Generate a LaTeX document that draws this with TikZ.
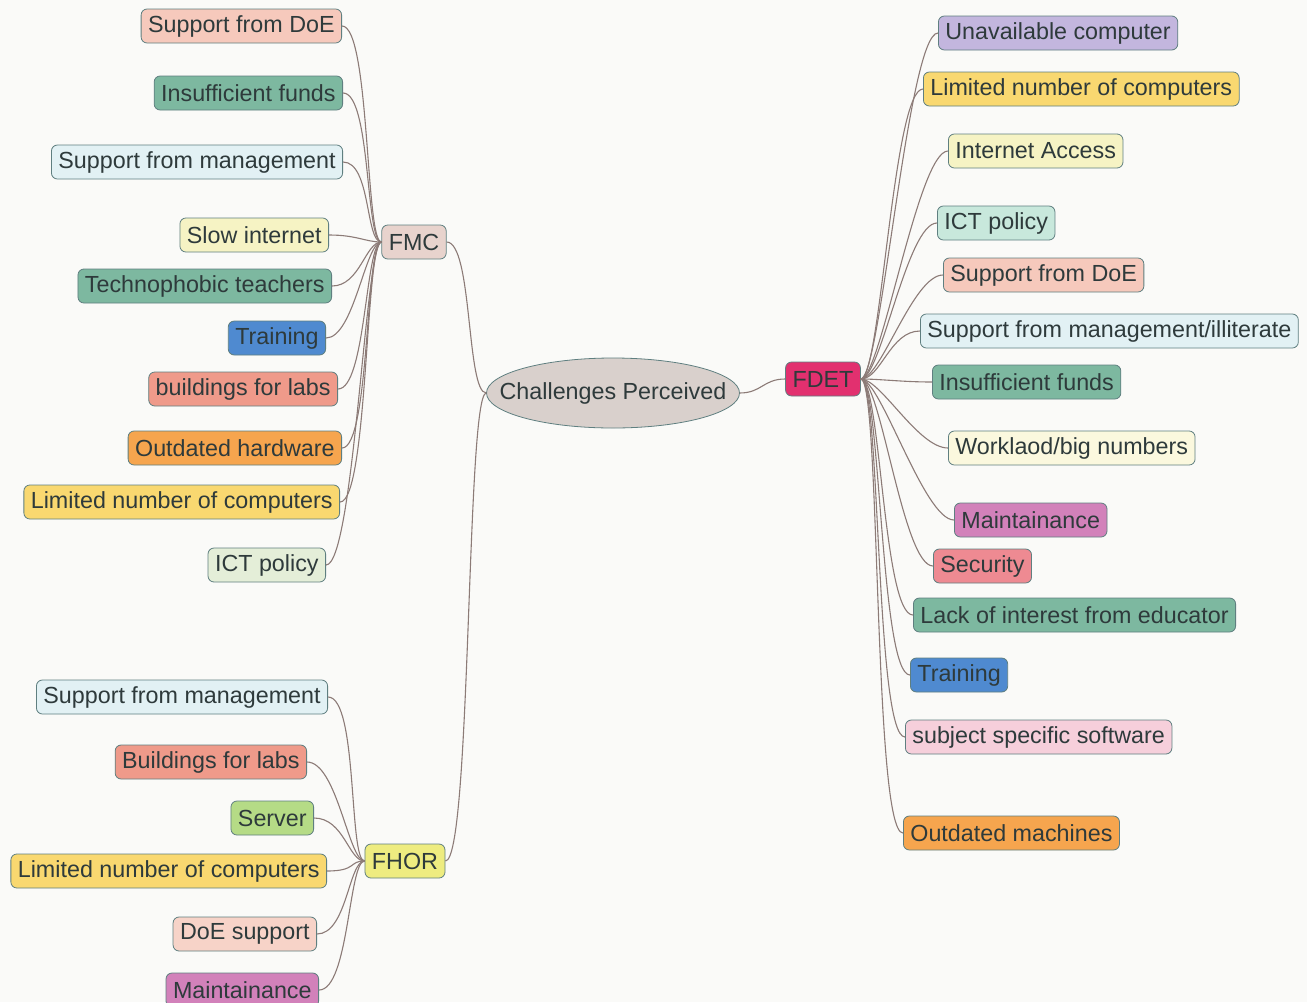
\documentclass[tikz,border=0pt]{standalone}
\usepackage{fontspec}
\setmainfont{Liberation Sans}
\definecolor{bgc}{HTML}{FAFAF8}
\definecolor{linkc}{HTML}{8C7B77}
\definecolor{edgec}{HTML}{5F7F80}
\definecolor{txtc}{HTML}{2E3A3B}
\definecolor{salmonlt}{HTML}{F6C9BC}
\definecolor{teal}{HTML}{7DB8A0}
\definecolor{bluelt}{HTML}{E2F1F4}
\definecolor{yellowlt}{HTML}{F6F3C4}
\definecolor{bluedk}{HTML}{4F8AD0}
\definecolor{salmon}{HTML}{EF9A8A}
\definecolor{orange}{HTML}{F6A54E}
\definecolor{yellow}{HTML}{F9D870}
\definecolor{greenlt}{HTML}{E4EED8}
\definecolor{tealt}{HTML}{C8E8DC}
\definecolor{fmcc}{HTML}{E8D3CD}
\definecolor{hubc}{HTML}{D9D0CC}
\definecolor{fdetc}{HTML}{E2306F}
\definecolor{fhorc}{HTML}{EEEC80}
\definecolor{serverc}{HTML}{B5DB86}
\definecolor{doelt}{HTML}{F7D3C8}
\definecolor{mauve}{HTML}{D281BA}
\definecolor{lavender}{HTML}{C3B6DE}
\definecolor{cream}{HTML}{FBF8DE}
\definecolor{rosec}{HTML}{EE8A92}
\definecolor{pinklt}{HTML}{F6CFDB}
\begin{document}
\begin{tikzpicture}[x=1pt,y=-1pt,
  every node/.style={font=\fontsize{23.3}{27}\selectfont, text=txtc},
  topic/.style={draw=edgec, line width=0.8pt, rounded corners=6pt, fill=#1,
    minimum height=34pt, inner xsep=7pt, inner ysep=3pt},
  hub/.style={minimum width=253pt, minimum height=70pt, inner sep=0pt},
  hubshape/.style={draw=edgec, line width=0.8pt, fill=hubc},
  link/.style={draw=linkc, line width=1.1pt}
]
\path[fill=bgc] (0,0) rectangle (1307,1002);
\useasboundingbox (0,0) rectangle (1307,1002);

% central topic (oval drawn first, text node on top) and main branches
\draw[hubshape] (613,393) ellipse (126.5 and 35);
\node[hub] (root) at (613,393) {Challenges Perceived};
\node[topic=fmcc] (fmc) at (414,242) {FMC};
\node[topic=fdetc] (fdet) at (823,379) {FDET};
\node[topic=fhorc] (fhor) at (405,861) {FHOR};

% FMC branch
\node[topic=salmonlt, anchor=east] (m1) at (342,26) {Support from DoE};
\node[topic=teal, anchor=east] (m2) at (343,93) {Insufficient funds};
\node[topic=bluelt, anchor=east] (m3) at (343,162) {Support from management};
\node[topic=yellowlt, anchor=east] (m4) at (329,235) {Slow internet};
\node[topic=teal, anchor=east] (m5) at (332,286) {Technophobic teachers};
\node[topic=bluedk, anchor=east] (m6) at (326,338) {Training};
\node[topic=salmon, anchor=east] (m7) at (338,389) {buildings for labs};
\node[topic=orange, anchor=east] (m8) at (342,448) {Outdated hardware};
\node[topic=yellow, anchor=east] (m9) at (340,502) {Limited number of computers};
\node[topic=greenlt, anchor=east] (m10) at (326,565) {ICT policy};

% FHOR branch
\node[topic=bluelt, anchor=east] (h1) at (328,697) {Support from management};
\node[topic=salmon, anchor=east] (h2) at (307,762) {Buildings for labs};
\node[topic=serverc, anchor=east] (h3) at (314,818) {Server};
\node[topic=yellow, anchor=east] (h4) at (327,871) {Limited number of computers};
\node[topic=doelt, anchor=east] (h5) at (317,934) {DoE support};
\node[topic=mauve, anchor=east] (h6) at (319,990) {Maintainance};

% FDET branch
\node[topic=lavender, anchor=west] (d1) at (938,33) {Unavailable computer};
\node[topic=yellow, anchor=west] (d2) at (923,89) {Limited number of computers};
\node[topic=yellowlt, anchor=west] (d3) at (948,151) {Internet Access};
\node[topic=tealt, anchor=west] (d4) at (937,223) {ICT policy};
\node[topic=salmonlt, anchor=west] (d5) at (943,275) {Support from DoE};
\node[topic=bluelt, anchor=west] (d6) at (920,331) {Support from management/illiterate};
\node[topic=teal, anchor=west] (d7) at (932,382) {Insufficient funds};
\node[topic=cream, anchor=west] (d8) at (948,448) {Worklaod/big numbers};
\node[topic=mauve, anchor=west] (d9) at (954,520) {Maintainance};
\node[topic=rosec, anchor=west] (d10) at (933,566) {Security};
\node[topic=teal, anchor=west] (d11) at (913,615) {Lack of interest from educator};
\node[topic=bluedk, anchor=west] (d12) at (910,675) {Training};
\node[topic=pinklt, anchor=west] (d13) at (905,737) {subject specific software};
\node[topic=orange, anchor=west] (d14) at (903,833) {Outdated machines};

% connectors
\draw[link] (fmc.east) .. controls +(26,0) and +(-20,0) .. (root.west);
\draw[link] (fhor.east) .. controls +(26,0) and +(-20,0) .. (root.west);
\draw[link] (root.east) .. controls +(22,0) and +(-22,0) .. (fdet.west);
\foreach \n in {m1,m2,m3,m4,m5,m6,m7,m8,m9,m10}
  \draw[link] (\n.east) .. controls +(28,0) and +(-16,0) .. (fmc.west);
\foreach \n in {h1,h2,h3,h4,h5,h6}
  \draw[link] (\n.east) .. controls +(30,0) and +(-16,0) .. (fhor.west);
\foreach \n in {d1,d2,d3,d4,d5,d6,d7,d8,d9,d10,d11,d12,d13,d14}
  \draw[link] (fdet.east) .. controls +(20,0) and +(-30,0) .. (\n.west);
\end{tikzpicture}
\end{document}
